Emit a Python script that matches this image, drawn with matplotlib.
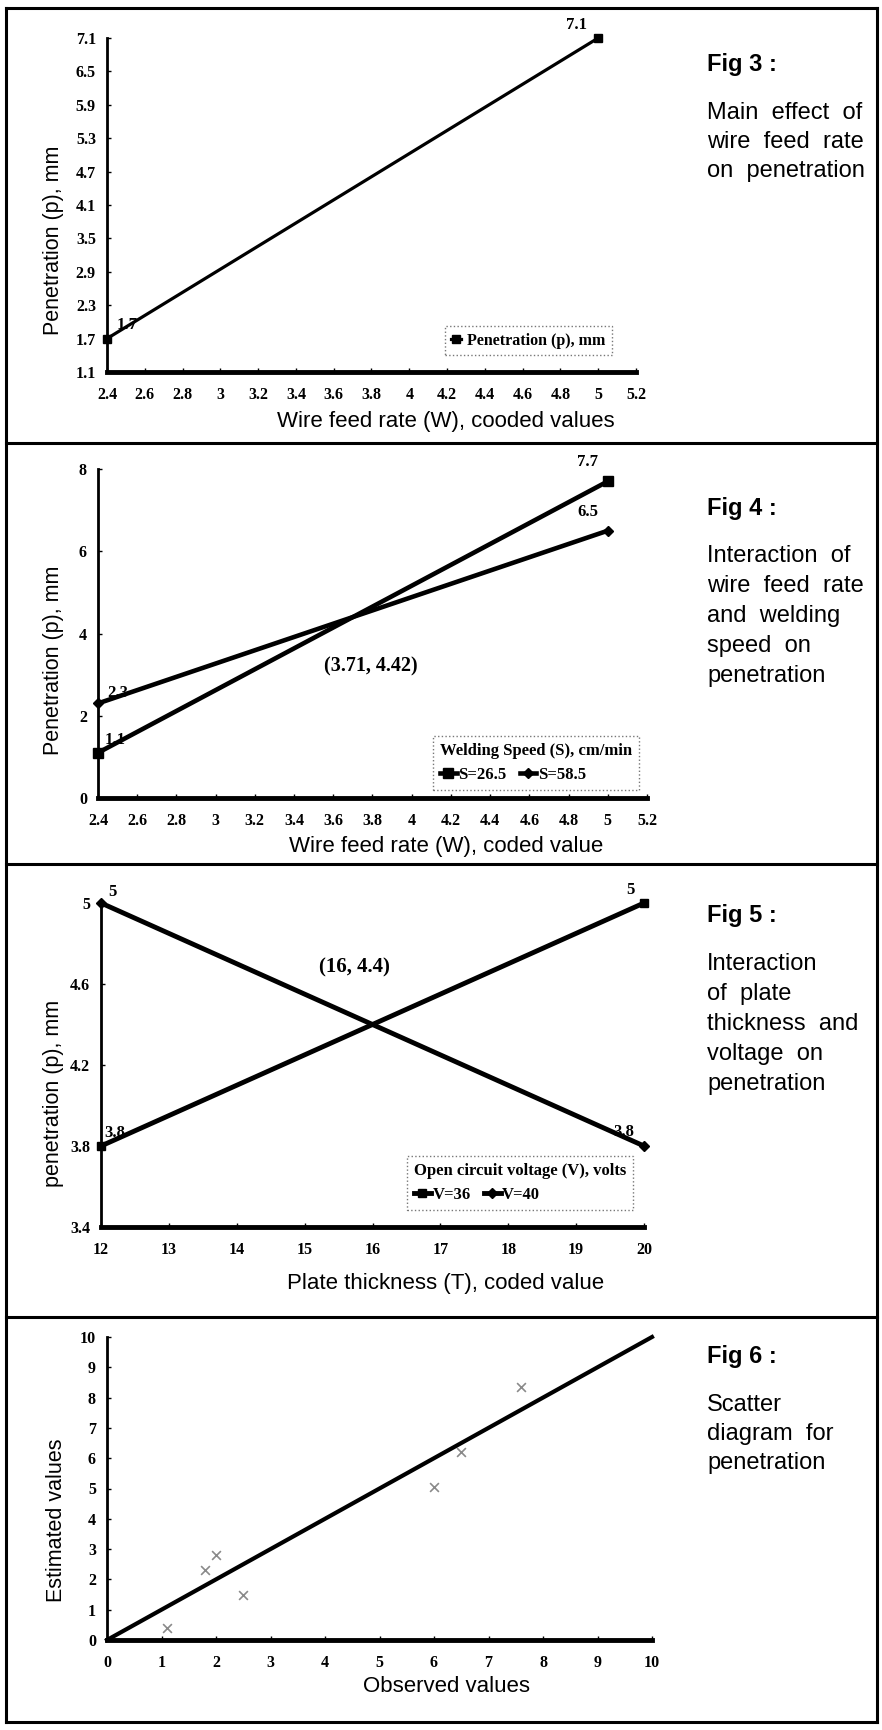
import matplotlib
matplotlib.use("Agg")
import matplotlib.pyplot as plt
from matplotlib.lines import Line2D

# размеры страницы в пикселях
W, H = 882, 1730

# Fig 3: main effect of wire feed rate
w3 = [2.4, 5.0]
p3 = [1.7, 7.1]
w_ticks = [2.4, 2.6, 2.8, 3.0, 3.2, 3.4, 3.6, 3.8, 4.0, 4.2, 4.4, 4.6, 4.8, 5.0, 5.2]
w_tick_labels = ["2.4", "2.6", "2.8", "3", "3.2", "3.4", "3.6", "3.8", "4",
                 "4.2", "4.4", "4.6", "4.8", "5", "5.2"]
p3_ticks = [1.1, 1.7, 2.3, 2.9, 3.5, 4.1, 4.7, 5.3, 5.9, 6.5, 7.1]

# Fig 4: wire feed rate x welding speed
w4 = [2.4, 5.0]
p4_s265 = [1.1, 7.7]
p4_s585 = [2.3, 6.5]
p4_ticks = [0, 2, 4, 6, 8]

# Fig 5: plate thickness x voltage
t5 = [12, 20]
p5_v36 = [3.8, 5.0]
p5_v40 = [5.0, 3.8]
t5_ticks = [12, 13, 14, 15, 16, 17, 18, 19, 20]
p5_ticks = [3.4, 3.8, 4.2, 4.6, 5.0]
p5_tick_labels = ["3.4", "3.8", "4.2", "4.6", "5"]

# Fig 6: scatter diagram
obs = [1.1, 1.8, 2.0, 2.5, 6.0, 6.5, 7.6]
est = [0.4, 2.3, 2.8, 1.5, 5.05, 6.2, 8.35]
fit_x = [0, 10]
fit_y = [0, 10]
ticks6 = list(range(0, 11))

SANS = "Liberation Sans"
SERIF = "Liberation Serif"

fig = plt.figure(figsize=(W / 100, H / 100), dpi=100)


def px_axes(left, top, right, bottom):
    return fig.add_axes([left / W, 1 - bottom / H, (right - left) / W, (bottom - top) / H])


def style(ax):
    for s in ["top", "right"]:
        ax.spines[s].set_visible(False)
    ax.spines["left"].set_linewidth(2)
    ax.spines["bottom"].set_linewidth(3.5)
    ax.tick_params(direction="in", length=3, width=1, pad=8)
    for lab in ax.get_xticklabels() + ax.get_yticklabels():
        lab.set_fontfamily(SERIF)
        lab.set_fontweight("bold")
        lab.set_fontsize(11.5)
    ax.tick_params(axis="x", pad=11)


def label(ax, x, y, txt, dx, dy):
    ax.annotate(txt, (x, y), xytext=(dx * 0.72, -dy * 0.72), textcoords="offset points",
                ha="center", va="center", fontfamily=SERIF, fontweight="bold",
                fontsize=12, annotation_clip=False)


def page_text(x, y, txt, **kw):
    fig.text(x / W, 1 - y / H, txt, **kw)


def fig_caption(y0, title, lines, step):
    page_text(707, y0, title, fontfamily=SANS, fontweight="bold", fontsize=17, va="center")
    for i, ln in enumerate(lines):
        page_text(707, y0 + 48 + i * step, ln, fontfamily=SANS, fontsize=17, va="center")


def legend_frame(leg):
    fr = leg.get_frame()
    fr.set_linestyle(":")
    fr.set_linewidth(1)
    fr.set_edgecolor("#555555")
    fr.set_boxstyle("square", pad=0)


LEG_FONT = {"family": SERIF, "weight": "bold", "size": 12}

# --- Fig 3 ---
ax1 = px_axes(107, 38, 636, 372)
ax1.plot(w3, p3, color="k", lw=2.3, marker="s", ms=6, clip_on=False,
         label="Penetration (p), mm")
ax1.set_xlim(2.4, 5.2)
ax1.set_ylim(1.1, 7.1)
ax1.set_xticks(w_ticks, w_tick_labels)
ax1.set_yticks(p3_ticks, [str(v) for v in p3_ticks])
style(ax1)
label(ax1, w3[1], p3[1], "7.1", -22, -13)
label(ax1, w3[0], p3[0], "1.7", 20, -14)
leg = ax1.legend(loc="lower right", bbox_to_anchor=(0.97, 0.027), frameon=True,
                 fancybox=False, handlelength=0.6, handletextpad=0.4, borderpad=0.4,
                 prop={"family": SERIF, "weight": "bold", "size": 11.5})
legend_frame(leg)
page_text(446, 421, "Wire feed rate (W), cooded values", fontfamily=SANS, fontsize=16,
          ha="center", va="center")
page_text(54, 240, "Penetration (p), mm", fontfamily=SANS, fontsize=15.5,
          ha="center", va="center", rotation=90)
fig_caption(65, "Fig 3 :", ["Main  effect  of", "wire  feed  rate", "on  penetration"], 29)

# --- Fig 4 ---
ax2 = px_axes(98, 469, 647, 798)
ax2.plot(w4, p4_s265, color="k", lw=3.3, marker="s", ms=7, clip_on=False, label="S=26.5")
ax2.plot(w4, p4_s585, color="k", lw=3.3, marker="D", ms=5, clip_on=False, label="S=58.5")
ax2.set_xlim(2.4, 5.2)
ax2.set_ylim(0, 8)
ax2.set_xticks(w_ticks, w_tick_labels)
ax2.set_yticks(p4_ticks, [str(v) for v in p4_ticks])
style(ax2)
label(ax2, w4[1], p4_s265[1], "7.7", -20, -19)
label(ax2, w4[1], p4_s585[1], "6.5", -20, -19)
label(ax2, w4[0], p4_s585[0], "2.3", 20, -10)
label(ax2, w4[0], p4_s265[0], "1.1", 17, -13)
ax2.text(3.79, 3.2, "(3.71, 4.42)", ha="center", va="center", fontfamily=SERIF,
         fontweight="bold", fontsize=14.5)
leg = ax2.legend(loc="lower right", bbox_to_anchor=(1.0, 0.0), ncol=2, frameon=True,
                 fancybox=False, handlelength=1.0, handletextpad=0.1, columnspacing=0.8,
                 borderpad=0.4, title="Welding Speed (S), cm/min",
                 prop=LEG_FONT, title_fontproperties=LEG_FONT)
leg._legend_box.align = "left"
legend_frame(leg)
page_text(446, 847, "Wire feed rate (W), coded value", fontfamily=SANS, fontsize=16,
          ha="center", va="center")
page_text(54, 660, "Penetration (p), mm", fontfamily=SANS, fontsize=15.5,
          ha="center", va="center", rotation=90)
fig_caption(508, "Fig 4 :", ["Interaction  of", "wire  feed  rate", "and  welding",
                             "speed  on", "penetration"], 30)

# --- Fig 5 ---
ax3 = px_axes(101, 903, 644, 1227)
ax3.plot(t5, p5_v36, color="k", lw=3.5, marker="s", ms=6, clip_on=False, label="V=36")
ax3.plot(t5, p5_v40, color="k", lw=3.5, marker="D", ms=5, clip_on=False, label="V=40")
ax3.set_xlim(12, 20)
ax3.set_ylim(3.4, 5.0)
ax3.set_xticks(t5_ticks, [str(v) for v in t5_ticks])
ax3.set_yticks(p5_ticks, p5_tick_labels)
style(ax3)
label(ax3, t5[0], p5_v40[0], "5", 11, -11)
label(ax3, t5[1], p5_v36[1], "5", -14, -13)
label(ax3, t5[0], p5_v36[0], "3.8", 14, -13)
label(ax3, t5[1], p5_v40[1], "3.8", -20, -14)
ax3.text(15.73, 4.68, "(16, 4.4)", ha="center", va="center", fontfamily=SERIF,
         fontweight="bold", fontsize=15)
leg = ax3.legend(loc="lower right", bbox_to_anchor=(0.995, 0.028), ncol=2, frameon=True,
                 fancybox=False, handlelength=1.0, handletextpad=0.1, columnspacing=0.8,
                 borderpad=0.4, title="Open circuit voltage (V), volts",
                 prop=LEG_FONT, title_fontproperties=LEG_FONT)
leg._legend_box.align = "left"
legend_frame(leg)
page_text(446, 1283, "Plate thickness (T), coded value", fontfamily=SANS, fontsize=16,
          ha="center", va="center")
page_text(54, 1093, "penetration (p), mm", fontfamily=SANS, fontsize=15.5,
          ha="center", va="center", rotation=90)
fig_caption(916, "Fig 5 :", ["Interaction", "of  plate", "thickness  and",
                             "voltage  on", "penetration"], 30)

# --- Fig 6 ---
ax4 = px_axes(107, 1337, 652, 1640)
ax4.plot(fit_x, fit_y, color="k", lw=3, clip_on=False)
ax4.scatter(obs, est, marker="x", s=40, color="#8a8a8a", linewidths=1.2)
ax4.set_xlim(0, 10)
ax4.set_ylim(0, 10)
ax4.set_xticks(ticks6, [str(v) for v in ticks6])
ax4.set_yticks(ticks6, [str(v) for v in ticks6])
style(ax4)
page_text(446, 1687, "Observed values", fontfamily=SANS, fontsize=16,
          ha="center", va="center")
page_text(57, 1520, "Estimated values", fontfamily=SANS, fontsize=15.5,
          ha="center", va="center", rotation=90)
fig_caption(1357, "Fig 6 :", ["Scatter", "diagram  for", "penetration"], 29)

# рамка страницы и разделители
for y in [8, 443, 864, 1317, 1722]:
    fig.add_artist(Line2D([6 / W, 877 / W], [1 - y / H, 1 - y / H], color="k", lw=2.2))
for x in [6, 877]:
    fig.add_artist(Line2D([x / W, x / W], [1 - 8 / H, 1 - 1722 / H], color="k", lw=2.2))

fig.savefig("out.png", dpi=100)
